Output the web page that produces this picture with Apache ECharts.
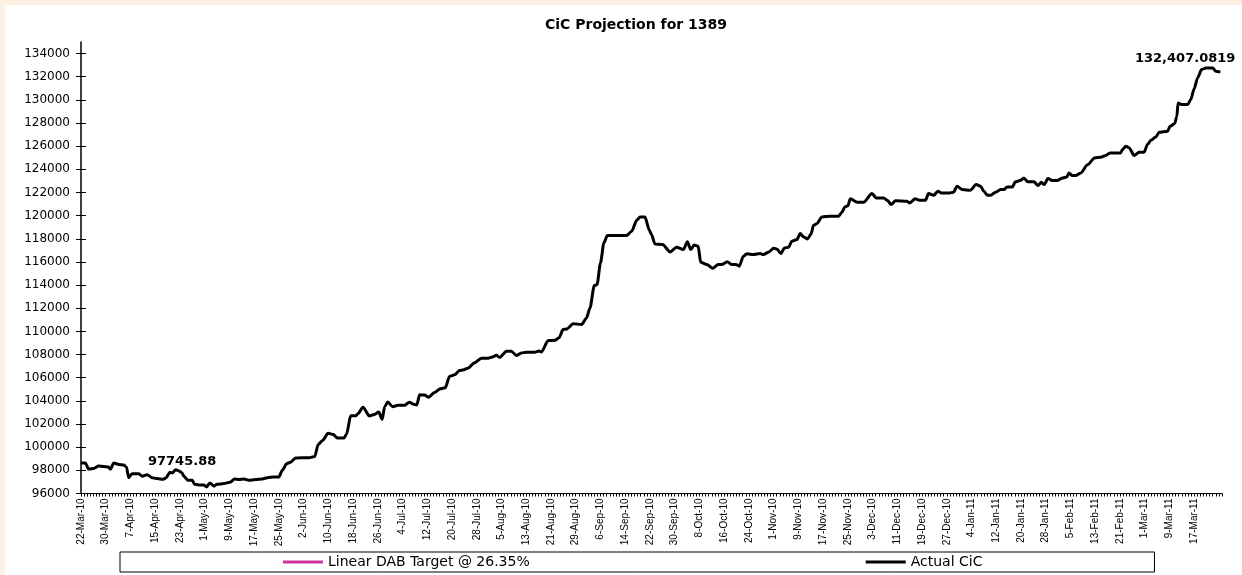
<!DOCTYPE html>
<html><head><meta charset="utf-8">
<script src="https://cdn.jsdelivr.net/npm/echarts@6/dist/echarts.min.js"></script>
<style>
html,body{margin:0;padding:0;background:#FEF1E3;width:1242px;height:575px;overflow:hidden}
#c{position:absolute;left:5px;top:5px;width:1237px;height:570px;background:#fff}
</style></head><body><div id="c"></div>
<script>
// X tick labels (one every 8 days, starting 22-Mar-10 = day 0)
const tickLabels = ['22-Mar-10','30-Mar-10','7-Apr-10','15-Apr-10','23-Apr-10','1-May-10','9-May-10','17-May-10','25-May-10','2-Jun-10','10-Jun-10','18-Jun-10','26-Jun-10','4-Jul-10','12-Jul-10','20-Jul-10','28-Jul-10','5-Aug-10','13-Aug-10','21-Aug-10','29-Aug-10','6-Sep-10','14-Sep-10','22-Sep-10','30-Sep-10','8-Oct-10','16-Oct-10','24-Oct-10','1-Nov-10','9-Nov-10','17-Nov-10','25-Nov-10','3-Dec-10','11-Dec-10','19-Dec-10','27-Dec-10','4-Jan-11','12-Jan-11','20-Jan-11','28-Jan-11','5-Feb-11','13-Feb-11','21-Feb-11','1-Mar-11','9-Mar-11','17-Mar-11'];
const yTicks = [96000,98000,100000,102000,104000,106000,108000,110000,112000,114000,116000,118000,120000,122000,124000,126000,128000,130000,132000,134000];

// Actual CiC: day offset from 22-Mar-10 and value
const cicDays = [0,1.4,2.5,4.1,5.7,7.3,8.9,9.5,10.6,12.2,13.8,14.7,15.4,16.5,18.7,19.8,21.4,23,24.6,26.6,27.6,28.7,29.5,30.6,32,32.7,33.3,34.6,36,36.7,38.1,39.7,40.6,41.7,43,44,46.2,48.2,49.7,51.1,52.7,54.3,56.5,58.6,60.3,62.4,64,65.1,66.5,67.8,69.4,71.1,73.7,75.6,76.7,78.1,79.9,81.6,82.9,85.1,85.9,87.2,88.9,89.6,91.2,93.3,94.9,96.3,97.4,98.2,99.2,100.8,102.5,104.6,106.2,107.6,108.6,109.5,111.1,112.5,114.3,116.2,117.8,119.2,120.8,122.4,123.5,125.1,127.3,129.5,131.7,133,134.3,135.4,137.6,139.2,140.8,142.4,144,146.7,148.1,148.9,151.1,153.3,154.6,155.9,157,159.2,161.9,163.5,164.6,166,166.9,168,169.1,170.2,172.1,176.4,178.1,179.7,180.8,182.4,183.8,184.5,185.6,188.1,190.5,192.6,194.8,196.1,197.2,198.3,199.6,200.4,202.4,204.3,206.1,207.2,209,210.4,211.8,212.9,214.2,215.3,217.5,219.6,220.7,222.3,224,225,226.4,227.5,228.8,229.9,231.5,232.6,233.7,235,236.1,236.9,238,239.6,242.3,245,246.1,247,248,248.8,251,253.1,255.8,257.2,259.6,260.9,262,263.4,267.1,268,269.8,271.2,273.1,274.1,275.8,277.1,278.2,280.6,282.2,283.3,285,287.6,289.5,290.9,292,293.1,294.2,295.8,297.4,298.5,299.5,301.2,302.2,303.9,304.9,306.2,308.2,309.5,310.6,311.5,312.7,314.1,315.7,317.4,318.8,319.5,320.6,321.7,323.3,325.5,327.8,329.8,331.4,332.8,336.2,336.8,337.9,339,340.6,342.2,343.8,344.9,346,347.6,348.7,351.4,352.2,353.7,354.4,354.8,355.9,357.9,358.9,360,361.1,362.4,363.8,366,367,368.4];
const cicValues = [98630,98630,98110,98170,98370,98340,98280,98110,98630,98510,98460,98280,97370,97710,97710,97490,97630,97370,97290,97230,97370,97830,97770,98060,97910,97745.88,97490,97140,97140,96800,96740,96740,96570,96910,96630,96800,96860,96970,97260,97200,97260,97140,97200,97260,97370,97430,97430,98000,98570,98710,99060,99090,99090,99200,100230,100570,101200,101090,100800,100800,101140,102710,102720,102910,103450,102690,102830,103030,102400,103500,103900,103500,103620,103620,103880,103700,103650,104520,104500,104320,104720,105050,105130,106130,106250,106620,106660,106820,107290,107690,107690,107780,107940,107760,108290,108290,107920,108140,108200,108200,108310,108230,109210,109240,109450,110160,110200,110660,110600,111170,112030,113960,114050,115920,117650,118280,118280,118280,118650,119600,119890,119890,118740,118370,117560,117500,116870,117270,117070,117740,117070,117470,117360,115980,115780,115460,115780,115780,116010,115780,115780,115640,116500,116700,116640,116730,116640,116840,117180,117120,116730,117210,117270,117790,117930,118450,118160,117990,118420,119170,119310,119890,119950,119950,120290,120750,120860,121450,121160,121160,121910,121530,121530,121300,120960,121280,121250,121100,121450,121330,121330,121910,121760,122110,121960,121950,122030,122540,122250,122200,122690,122540,122110,121760,121760,122030,122250,122250,122480,122480,122920,123060,123260,122920,122920,122600,122880,122690,123200,123030,123030,123260,123340,123680,123460,123460,123680,124390,124990,125050,125200,125420,125420,125710,126000,125850,125190,125480,125480,126140,126510,126800,127200,127290,127720,127950,128580,129740,129600,129600,130030,130960,131900,132620,132760,132760,132470,132407.0819];
// Linear DAB target series: no visible points in the chart
const dabTarget = [];
const labelledValues = [97745.88, 132407.0819];

const chart = echarts.init(document.getElementById('c'));
const labelDays = tickLabels.map((_, i) => i * 8);
const dayTicks = [];
for (let d = 0; d <= 369; d++) dayTicks.push(d);

const cicData = cicDays.map((d, i) => {
  const v = cicValues[i];
  const item = { value: [d, v] };
  if (v === labelledValues[0]) {
    item.label = { show: true, position: 'top', distance: 5, formatter: () => String(v) };
  } else if (v === labelledValues[1]) {
    item.label = { show: true, position: 'top', distance: 6, offset: [-35, 0],
      formatter: () => v.toLocaleString('en-US', { maximumFractionDigits: 4 }) };
  }
  return item;
});

const font = 'DejaVu Sans';
chart.setOption({
  animation: false,
  title: { text: 'CiC Projection for 1389', left: 626, top: 8, textAlign: 'center',
    textStyle: { fontFamily: font, fontWeight: 'bold', fontSize: 14, color: '#000' } },
  grid: { left: 76, right: 20, top: 37, bottom: 81.5 },
  legend: {
    left: 115, top: 547, orient: 'horizontal',
    padding: [3, 172, 3, 163], itemGap: 336, itemWidth: 40, itemHeight: 3,
    borderColor: '#000', borderWidth: 1, icon: 'rect',
    textStyle: { fontFamily: font, fontSize: 14, color: '#000' },
    data: [{ name: 'Linear DAB Target @ 26.35%' }, { name: 'Actual CiC' }]
  },
  xAxis: {
    type: 'value', min: 0, max: 369,
    axisLine: { show: true, lineStyle: { color: '#000', width: 1 } },
    axisTick: { show: true, length: 3, customValues: dayTicks, lineStyle: { color: '#000', width: 1 } },
    axisLabel: { customValues: labelDays, rotate: 90, margin: 5, fontSize: 10,
      fontFamily: '"Liberation Sans Narrow", "Liberation Sans", sans-serif', color: '#000',
      formatter: v => tickLabels[Math.round(v / 8)] },
    splitLine: { show: false }
  },
  yAxis: [{
    type: 'value', min: 96000, max: 135000, interval: 1000, position: 'left',
    axisLine: { show: true, lineStyle: { color: '#000', width: 1.5 } },
    axisTick: { show: true, length: 5, customValues: yTicks, lineStyle: { color: '#000', width: 1 } },
    axisLabel: { customValues: yTicks, margin: 11, fontFamily: font, fontSize: 12, color: '#000',
      formatter: v => String(v) },
    splitLine: { show: false }
  }, {
    type: 'value', min: 96000, max: 135000, interval: 1000, position: 'left',
    axisLine: { show: false },
    axisTick: { show: true, inside: true, length: 5, customValues: yTicks, lineStyle: { color: '#000', width: 1 } },
    axisLabel: { show: false },
    splitLine: { show: false }
  }],
  series: [{
    name: 'Linear DAB Target @ 26.35%', type: 'line', data: dabTarget,
    itemStyle: { color: '#CC3399' }, lineStyle: { color: '#CC3399', width: 2 }
  }, {
    name: 'Actual CiC', type: 'line', data: cicData, yAxisIndex: 0,
    symbol: 'circle', symbolSize: 1, showSymbol: true, smooth: 0.25, smoothMonotone: 'x',
    itemStyle: { color: '#000' }, lineStyle: { color: '#000', width: 3 },
    label: { show: false, fontFamily: font, fontWeight: 'bold', fontSize: 13, color: '#000' },
    z: 3
  }]
});
</script></body></html>
